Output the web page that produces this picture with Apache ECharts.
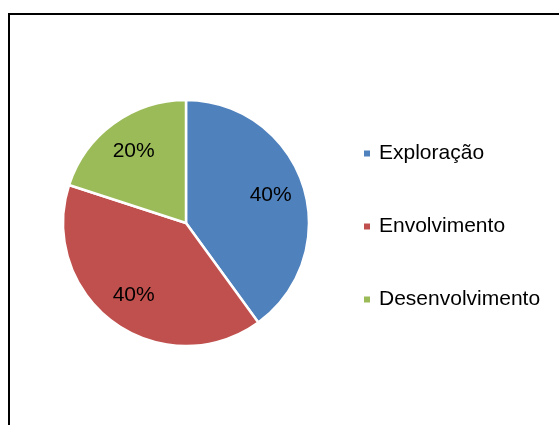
<!DOCTYPE html>
<html>
<head>
<meta charset="utf-8">
<script src="https://cdn.jsdelivr.net/npm/echarts@6/dist/echarts.min.js"></script>
<style>
html,body{margin:0;padding:0;background:#fff;}
#c{width:559px;height:425px;}
</style>
</head>
<body>
<div id="c"></div>
<script>
const categories = ['Exploração', 'Envolvimento', 'Desenvolvimento'];
const values = [40, 40, 20];
const colors = ['#4F81BD', '#C0504D', '#9BBB59'];

const FONT = 'Liberation Sans';
const chart = echarts.init(document.getElementById('c'), null, {renderer: 'canvas'});

const mainData = categories.map((n, i) => ({name: n, value: values[i], itemStyle: {color: colors[i]}}));
const labelData = categories.map((n, i) => ({name: n, value: values[i]}));

chart.setOption({
  animation: false,
  backgroundColor: '#fff',
  graphic: [{
    type: 'rect',
    shape: {x: 9, y: 14, width: 620, height: 500},
    style: {fill: 'none', stroke: '#000', lineWidth: 2},
    silent: true,
    z: 100
  }],
  legend: {
    orient: 'vertical',
    left: 357,
    top: 138,
    itemWidth: 8,
    itemHeight: 8,
    itemGap: 52,
    icon: 'rect',
    selectedMode: false,
    data: categories,
    textStyle: {fontFamily: FONT, fontSize: 21, color: '#000', lineHeight: 20, padding: [0, 0, 0, 3]}
  },
  series: [
    {
      type: 'pie',
      center: [186, 223],
      radius: 123,
      startAngle: 90,
      clockwise: true,
      silent: true,
      label: {show: false},
      labelLine: {show: false},
      itemStyle: {borderColor: '#fff', borderWidth: 2.5},
      emphasis: {disabled: true},
      data: mainData
    },
    {
      type: 'pie',
      center: [186, 223],
      radius: [0, 172],
      startAngle: 90,
      clockwise: true,
      silent: true,
      itemStyle: {color: 'rgba(0,0,0,0)', borderWidth: 0},
      label: {
        show: true,
        position: 'inside',
        formatter: p => p.value + '%',
        fontFamily: FONT,
        fontSize: 21,
        color: '#000'
      },
      labelLine: {show: false},
      emphasis: {disabled: true},
      data: labelData
    }
  ]
});
</script>
</body>
</html>
